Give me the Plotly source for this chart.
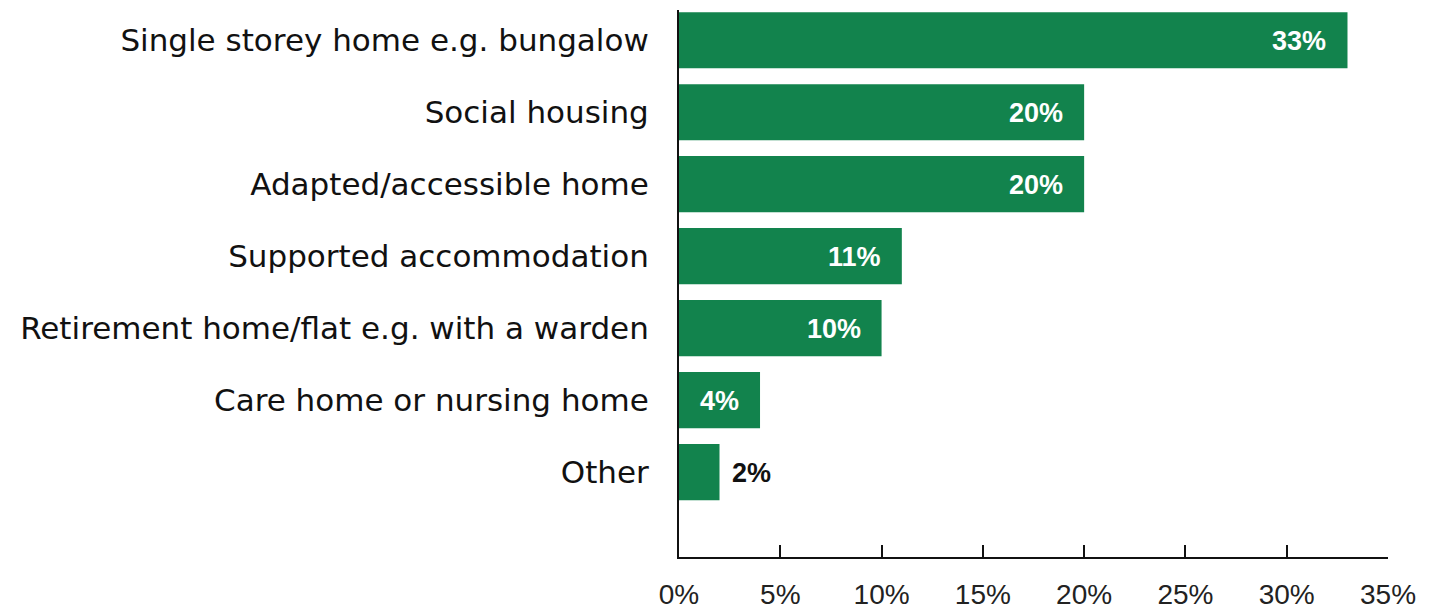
import plotly.graph_objects as go

categories = [
    "Single storey home e.g. bungalow",
    "Social housing",
    "Adapted/accessible home",
    "Supported accommodation",
    "Retirement home/flat e.g. with a warden",
    "Care home or nursing home",
    "Other",
]
values = [33, 20, 20, 11, 10, 4, 2]
tick_vals = [0, 5, 10, 15, 20, 25, 30, 35]
tick_text = ["0%", "5%", "10%", "15%", "20%", "25%", "30%", "35%"]

BAR_COLOR = "#12834D"

fig = go.Figure(
    go.Bar(
        x=values,
        y=categories,
        orientation="h",
        marker=dict(color=BAR_COLOR, line=dict(width=0)),
        width=0.78,
        hoverinfo="skip",
    )
)

# value labels: inside the bar end in white, or just past short bars in black
for cat, v in zip(categories, values):
    inside = v >= 3
    fig.add_annotation(
        x=v, y=cat, xref="x", yref="y",
        text=f"<b>{v}%</b>",
        showarrow=False,
        xanchor="right" if inside else "left",
        xshift=-19 if inside else 10,
        yshift=-1,
        font=dict(family="Liberation Sans, Arial, sans-serif", size=27,
                  color="white" if inside else "#111111"),
    )

fig.update_layout(
    width=1429, height=612,
    margin=dict(l=679, r=41, t=10, b=55),
    paper_bgcolor="white", plot_bgcolor="white",
    showlegend=False,
    bargap=0.22,
)

fig.update_xaxes(
    range=[0, 35],
    tickvals=tick_vals, ticktext=tick_text,
    ticks="inside", ticklen=12, tickwidth=2, tickcolor="#111111",
    showline=True, linecolor="#111111", linewidth=2,
    showgrid=False, zeroline=False,
    automargin=False,
    ticklabelstandoff=11,
    tickfont=dict(family="Liberation Sans, Arial, sans-serif", size=28, color="#222222"),
)

fig.update_yaxes(
    categoryorder="array", categoryarray=categories,
    range=[7.18, -0.42],
    showline=True, linecolor="#111111", linewidth=2,
    ticks="", showgrid=False, zeroline=False,
    automargin=False,
    ticklabelstandoff=22,
    tickfont=dict(family="DejaVu Sans, sans-serif", size=31, color="#111111"),
)

fig.write_html("out.html")
